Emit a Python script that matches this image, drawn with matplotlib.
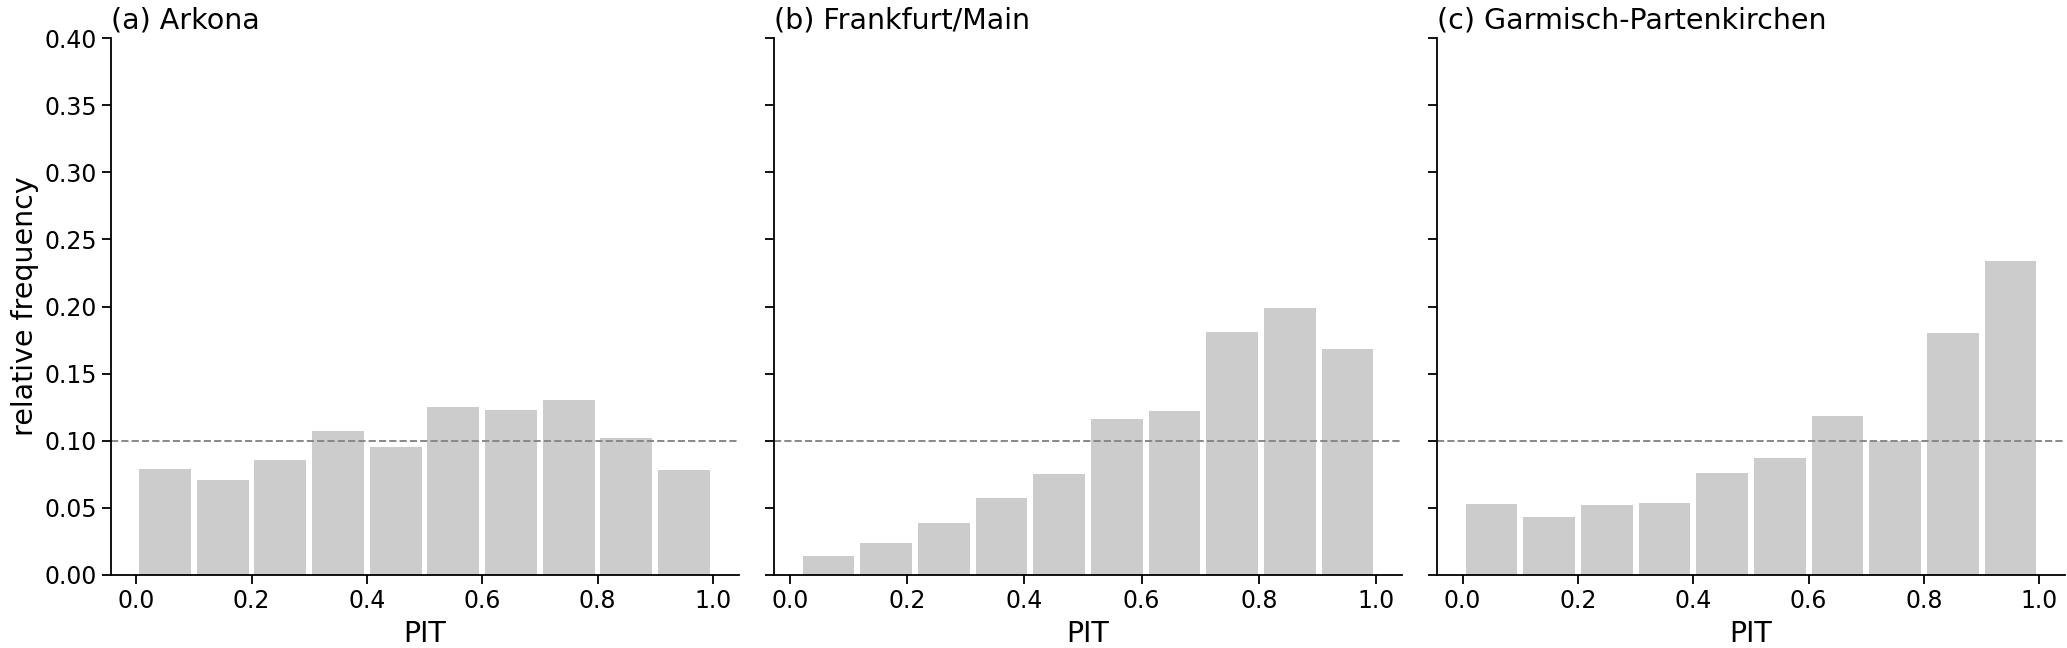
import numpy as np
import matplotlib
matplotlib.use('Agg')
import matplotlib.pyplot as plt

# station names and PIT histogram values
stations = ['(a) Arkona', '(b) Frankfurt/Main', '(c) Garmisch-Partenkirchen']
pit_lo = [0.0, 0.017, 0.0]
pit_hi = [1.0, 1.0, 1.0]
freq_arkona = [0.079, 0.071, 0.0855, 0.107, 0.0955, 0.125, 0.123, 0.130, 0.102, 0.078]
freq_frankfurt = [0.0142, 0.024, 0.039, 0.0575, 0.075, 0.116, 0.1225, 0.181, 0.199, 0.168]
freq_garmisch = [0.0526, 0.0431, 0.052, 0.0535, 0.076, 0.087, 0.1185, 0.0995, 0.180, 0.234]
yticks = [0.0, 0.05, 0.10, 0.15, 0.20, 0.25, 0.30, 0.35, 0.40]

plt.rcParams['font.family'] = 'DejaVu Sans'
plt.rcParams['xtick.labelsize'] = 17
plt.rcParams['ytick.labelsize'] = 17

fig = plt.figure(figsize=(20.67, 6.48), dpi=100)
W, H = 2067.0, 648.0
lefts = [110.6, 774.0, 1437.0]
axes = [fig.add_axes([l / W, (H - 575) / H, 628 / W, (575 - 38) / H]) for l in lefts]

for ax, name, lo, hi, freq in zip(axes, stations, pit_lo, pit_hi,
                                  [freq_arkona, freq_frankfurt, freq_garmisch]):
    edges = np.linspace(lo, hi, len(freq) + 1)
    centres = 0.5 * (edges[:-1] + edges[1:])
    ax.hist(centres, bins=edges, weights=freq, rwidth=0.9, color='#cccccc')
    ax.axhline(0.1, color='#888888', ls='--', lw=1.4)
    ax.set_ylim(0, 0.4)
    ax.set_yticks(yticks)
    ax.set_xticks([0.0, 0.2, 0.4, 0.6, 0.8, 1.0])
    ax.set_title(name, loc='left', fontsize=20.5, pad=7)
    ax.set_xlabel('PIT', fontsize=20.5, labelpad=5)
    for s in ['top', 'right']:
        ax.spines[s].set_visible(False)
    for s in ['left', 'bottom']:
        ax.spines[s].set_linewidth(1.3)
    ax.tick_params(length=6.5, width=1.3)

axes[0].set_ylabel('relative frequency', fontsize=20.5)
for ax in axes[1:]:
    ax.tick_params(axis='y', labelleft=False)

fig.savefig('out.png', dpi=100)
